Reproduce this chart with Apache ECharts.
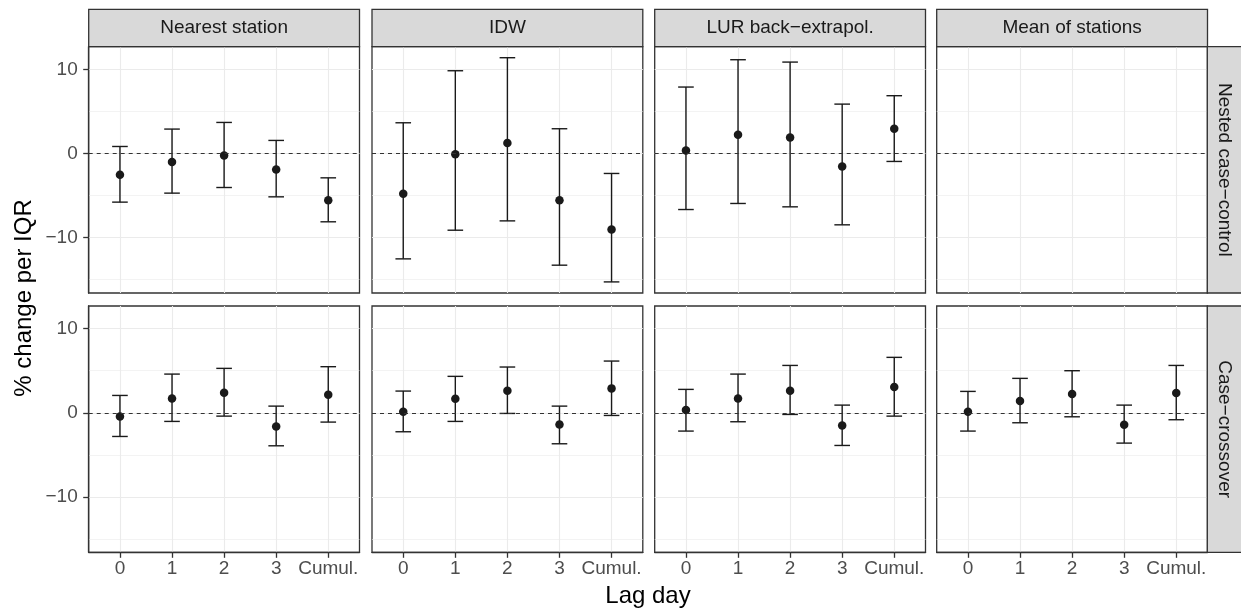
<!DOCTYPE html>
<html>
<head>
<meta charset="utf-8">
<title>% change per IQR by lag day</title>
<script src="https://cdn.jsdelivr.net/npm/echarts@6/dist/echarts.min.js"></script>
<style>
    html, body { margin: 0; padding: 0; background: #fff; }
    #chart { width: 1241px; height: 611px; }
</style>
</head>
<body>
<div id="chart"></div>
<script>
const lagLabels = ['0', '1', '2', '3', 'Cumul.']
const methods = ['Nearest station', 'IDW', 'LUR back\u2212extrapol.', 'Mean of stations']
const designs = ['Nested case\u2212control', 'Case\u2212crossover']
const yMajorTicks = [-10, 0, 10]
const yMinorTicks = [-15, -5, 5]

// nested case-control
const nccNearestEst = [-2.54, -1.03, -0.24, -1.90, -5.56]
const nccNearestLow = [-5.79, -4.72, -4.05, -5.16, -8.13]
const nccNearestHigh = [0.83, 2.90, 3.69, 1.55, -2.90]
const nccIdwEst = [-4.80, -0.08, 1.23, -5.56, -9.05]
const nccIdwLow = [-12.54, -9.13, -8.02, -13.29, -15.28]
const nccIdwHigh = [3.65, 9.84, 11.39, 2.94, -2.38]
const nccLurEst = [0.36, 2.22, 1.90, -1.55, 2.94]
const nccLurLow = [-6.67, -5.95, -6.35, -8.49, -0.95]
const nccLurHigh = [7.90, 11.15, 10.87, 5.87, 6.87]
const nccMeanEst = [] // not estimated
const nccMeanLow = []
const nccMeanHigh = []

// case-crossover
const ccoNearestEst = [-0.44, 1.71, 2.38, -1.63, 2.14]
const ccoNearestLow = [-2.82, -1.03, -0.40, -3.93, -1.11]
const ccoNearestHigh = [2.06, 4.60, 5.28, 0.79, 5.48]
const ccoIdwEst = [0.12, 1.67, 2.62, -1.39, 2.90]
const ccoIdwLow = [-2.26, -1.03, -0.08, -3.69, -0.32]
const ccoIdwHigh = [2.58, 4.33, 5.44, 0.79, 6.15]
const ccoLurEst = [0.32, 1.71, 2.62, -1.51, 3.06]
const ccoLurLow = [-2.18, -1.07, -0.20, -3.89, -0.40]
const ccoLurHigh = [2.78, 4.60, 5.63, 0.91, 6.59]
const ccoMeanEst = [0.12, 1.39, 2.22, -1.43, 2.34]
const ccoMeanLow = [-2.18, -1.19, -0.48, -3.61, -0.83]
const ccoMeanHigh = [2.54, 4.09, 5.00, 0.91, 5.63]

const panels = [
    [nccNearestEst, nccNearestLow, nccNearestHigh],
    [nccIdwEst, nccIdwLow, nccIdwHigh],
    [nccLurEst, nccLurLow, nccLurHigh],
    [nccMeanEst, nccMeanLow, nccMeanHigh],
    [ccoNearestEst, ccoNearestLow, ccoNearestHigh],
    [ccoIdwEst, ccoIdwLow, ccoIdwHigh],
    [ccoLurEst, ccoLurLow, ccoLurHigh],
    [ccoMeanEst, ccoMeanLow, ccoMeanHigh]
]

const fontFamily = '"Liberation Sans", Arial, Helvetica, sans-serif'
const colLeft = [88.7, 372, 654.7, 936.7]
const panelWidth = 270.8
const rowTop = [46.7, 306]
const panelHeight = 246.3
const stripTop = 9.3
const stripRight = 1207.3
const ink = '#1A1A1A'
const frame = '#333333'
const capWidth = 0.3

const minus = v => String(v).replace('-', '\u2212')

const grids = [], xAxes = [], yAxes = [], yMinorAxes = [], series = []
panels.forEach((p, i) => {
    const row = Math.floor(i / 4), col = i % 4
    const outerX = row === 1, outerY = col === 0
    grids.push({
        left: colLeft[col], top: rowTop[row], width: panelWidth, height: panelHeight,
        show: true, borderColor: frame, borderWidth: 1.3, backgroundColor: 'transparent',
        containLabel: false
    })
    xAxes.push({
        gridIndex: i, type: 'value', min: -0.6, max: 4.6, position: 'bottom',
        axisLine: { show: outerX, onZero: false, lineStyle: { color: frame, width: 1.3 } },
        axisTick: { show: outerX, length: 5.5, customValues: [0, 1, 2, 3, 4], lineStyle: { color: frame, width: 1.3 } },
        axisLabel: {
            show: outerX, customValues: [0, 1, 2, 3, 4], margin: 7,
            color: '#4D4D4D', fontSize: 19, fontFamily,
            formatter: v => lagLabels[Math.round(v)]
        },
        splitLine: { show: true, lineStyle: { color: '#EBEBEB', width: 1.1 } }
    })
    yAxes.push({
        gridIndex: i, type: 'value', min: -16.6, max: 12.7, position: 'left',
        axisLine: { show: outerY, onZero: false, lineStyle: { color: frame, width: 1.3 } },
        axisTick: { show: outerY, length: 5.5, customValues: yMajorTicks, lineStyle: { color: frame, width: 1.3 } },
        axisLabel: {
            show: outerY, customValues: yMajorTicks, margin: 11,
            color: '#4D4D4D', fontSize: 19, fontFamily, formatter: minus
        },
        splitLine: { show: true, lineStyle: { color: '#EBEBEB', width: 1.1 } }
    })
    yMinorAxes.push({
        gridIndex: i, type: 'value', min: -16.6, max: 12.7, position: 'left',
        axisLine: { show: false, onZero: false },
        axisTick: { show: false, customValues: yMinorTicks },
        axisLabel: { show: false, customValues: yMinorTicks },
        splitLine: { show: true, lineStyle: { color: '#EBEBEB', width: 0.6 } }
    })

    const [est, low, high] = p
    series.push({
        type: 'custom', xAxisIndex: i, yAxisIndex: i, silent: true, z: 3,
        data: low.map((v, k) => [k, v, high[k]]),
        encode: { x: 0, y: [1, 2] },
        renderItem: (params, api) => {
            const x = api.value(0)
            const a = api.coord([x, api.value(1)])
            const b = api.coord([x, api.value(2)])
            const half = api.size([capWidth, 0])[0] / 2
            const style = { stroke: ink, lineWidth: 1.4 }
            return {
                type: 'group',
                children: [
                    { type: 'line', shape: { x1: a[0], y1: a[1], x2: b[0], y2: b[1] }, style },
                    { type: 'line', shape: { x1: a[0] - half, y1: a[1], x2: a[0] + half, y2: a[1] }, style },
                    { type: 'line', shape: { x1: b[0] - half, y1: b[1], x2: b[0] + half, y2: b[1] }, style }
                ]
            }
        }
    })
    series.push({
        type: 'scatter', xAxisIndex: i, yAxisIndex: i, z: 4,
        symbolSize: 8.5, itemStyle: { color: ink, opacity: 1 },
        data: est.map((v, k) => [k, v]),
        markLine: {
            silent: true, symbol: ['none', 'none'], label: { show: false },
            lineStyle: { color: frame, type: [4, 4], width: 1, opacity: 1 },
            data: [{ yAxis: 0 }]
        }
    })
})

// facet strips
const graphics = []
methods.forEach((m, c) => {
    graphics.push({
        type: 'rect', shape: { x: colLeft[c], y: stripTop, width: panelWidth, height: rowTop[0] - stripTop },
        style: { fill: '#D9D9D9', stroke: frame, lineWidth: 1.3 }, z: 10
    })
    graphics.push({
        type: 'text', x: colLeft[c] + panelWidth / 2, y: (stripTop + rowTop[0]) / 2, z: 11,
        style: { text: m, fill: ink, font: `19px ${fontFamily}`, align: 'center', verticalAlign: 'middle' }
    })
})
designs.forEach((d, r) => {
    graphics.push({
        type: 'rect', shape: { x: stripRight, y: rowTop[r], width: 40, height: panelHeight },
        style: { fill: '#D9D9D9', stroke: frame, lineWidth: 1.3 }, z: 10
    })
    graphics.push({
        type: 'text', x: stripRight + 17, y: rowTop[r] + panelHeight / 2, rotation: -Math.PI / 2, z: 11,
        style: { text: d, fill: ink, font: `19px ${fontFamily}`, align: 'center', verticalAlign: 'middle' }
    })
})
// axis titles
graphics.push({
    type: 'text', x: (colLeft[0] + stripRight) / 2, y: 596,
    style: { text: 'Lag day', fill: '#000', font: `24px ${fontFamily}`, align: 'center', verticalAlign: 'middle' }
})
graphics.push({
    type: 'text', x: 24, y: 298, rotation: Math.PI / 2,
    style: { text: '% change per IQR', fill: '#000', font: `24px ${fontFamily}`, align: 'center', verticalAlign: 'middle' }
})

const myChart = echarts.init(document.getElementById('chart'), null, { renderer: 'canvas' })
myChart.setOption({
    animation: false,
    backgroundColor: '#fff',
    grid: grids,
    xAxis: xAxes,
    yAxis: yAxes.concat(yMinorAxes),
    series,
    graphic: graphics
})
</script>
</body>
</html>
